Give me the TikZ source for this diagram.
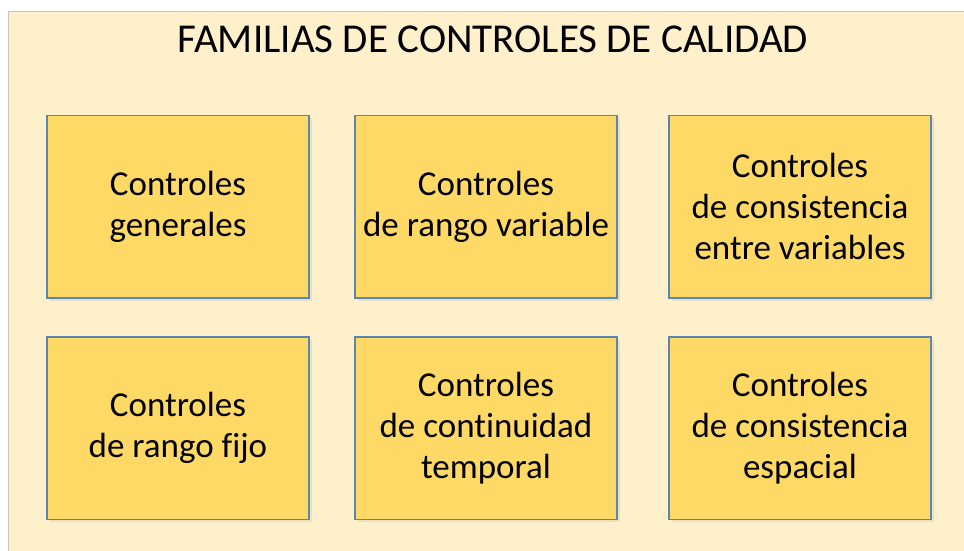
\documentclass[tikz,border=0pt]{standalone}
\usepackage{fontspec}
\setmainfont[Ligatures=NoCommon]{Carlito}
\usepackage{tikz}
\usetikzlibrary{positioning,shadows}
\definecolor{paper}{HTML}{FFF0CC}
\definecolor{boxfill}{HTML}{FFD966}
\definecolor{boxline}{HTML}{5A86B0}

\begin{document}
\begin{tikzpicture}[
    family/.style={draw=boxline, line width=0.9pt, fill=boxfill, minimum width=6.55cm, minimum height=4.56cm, align=center, inner sep=0pt,
        font=\fontsize{24.9}{29.2}\selectfont,
        drop shadow={opacity=0.15, shadow xshift=2pt, shadow yshift=-2pt}},
    heading/.style={font=\fontsize{29.2}{34}\selectfont, anchor=base}
]
\useasboundingbox (0,0) rectangle (24.1,13.775);

% Frame
\fill[white] (0,0) rectangle (24.1,13.775);
\draw[gray!45, fill=paper] (0.2,-0.5) rectangle (24.6,13.5);

% Title
\node[heading] (title) at (12.325,12.45) {FAMILIAS DE CONTROLES DE CALIDAD};

% First row
\node[family] (gen) at (4.45,8.606) {Controles\\generales};
\node[family] (var) at (12.15,8.606) {Controles\\de rango variable};
\node[family] (ent) at (20.0,8.606) {Controles\\de consistencia\\entre variables};

% Second row
\node[family] (fijo) at (4.45,3.069) {Controles\\de rango fijo};
\node[family] (temp) at (12.15,3.069) {Controles\\de continuidad\\temporal};
\node[family] (esp) at (20.0,3.069) {Controles\\de consistencia\\espacial};

\end{tikzpicture}
\end{document}
